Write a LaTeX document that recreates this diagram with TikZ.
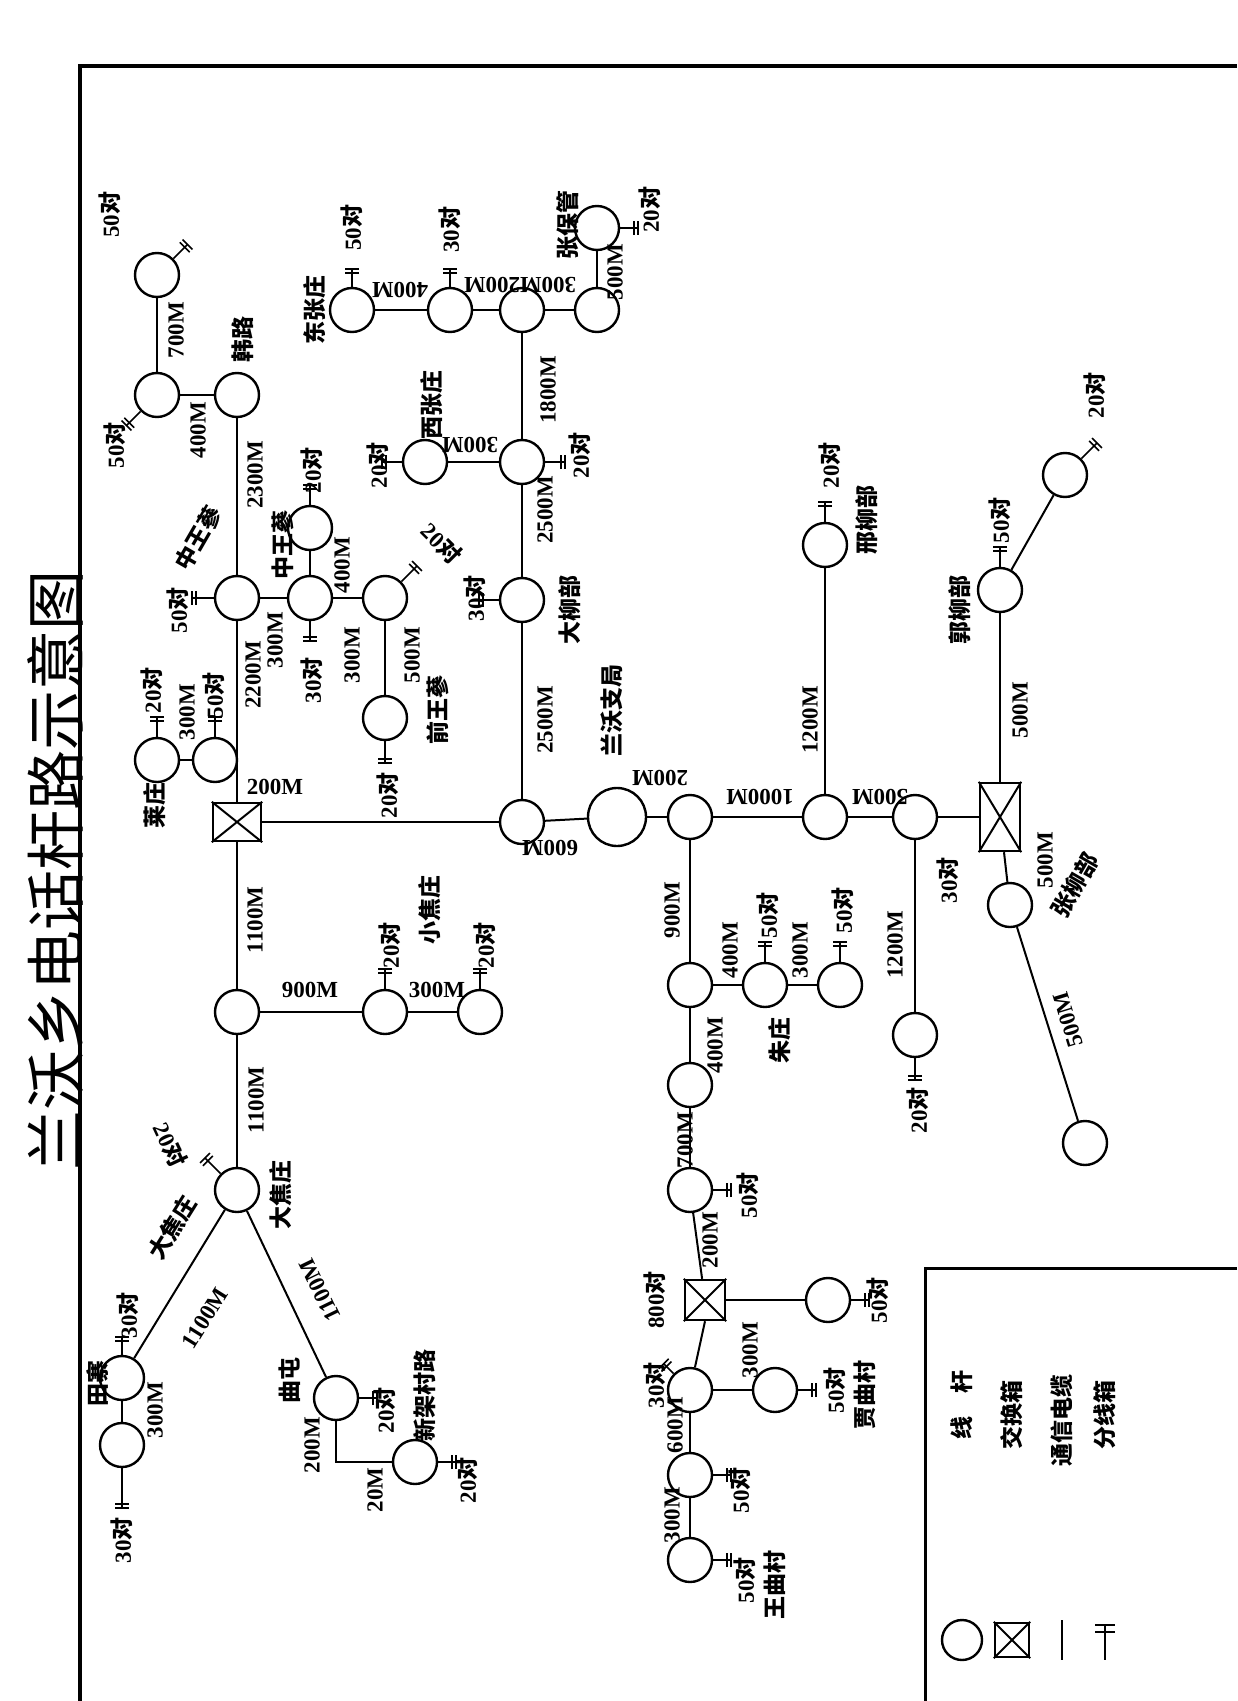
\documentclass[tikz,border=0pt]{standalone}
\usepackage{fontspec}
\setmainfont{Liberation Serif}
\newfontfamily\cjk{Noto Sans CJK SC}
\usetikzlibrary{calc}
\newcommand\dui{{\cjk 对}}
\newcommand\lbl{\bfseries\fontsize{11.5}{12}\selectfont}
\newcommand\zlbl{\cjk\bfseries\fontsize{11.5}{12}\selectfont}
\newcommand\tapp[3]{\draw[thick] (#1.#2) -- ++(-#2:#3) coordinate (tt);
 \draw[thick] ($(tt)+(-#2+90:7)$) -- ($(tt)+(-#2-90:7)$);
 \draw[thick] ($(tt)+(-#2:-4)+(-#2+90:7)$) -- ($(tt)+(-#2:-4)+(-#2-90:7)$);}
\begin{document}
\begin{tikzpicture}[x=0.5pt,y=-0.5pt,line width=1pt,
 p/.style={circle,draw,line width=1.2pt,minimum size=22pt,inner sep=0},
 bp/.style={circle,draw,line width=1.2pt,minimum size=29pt,inner sep=0},
 bx/.style={rectangle,draw,line width=1.2pt,minimum width=#1,inner sep=0},
 t/.style={font=\lbl,inner sep=1pt,rotate=90},
 tu/.style={font=\lbl,inner sep=1pt,rotate=180},
 zh/.style={font=\zlbl,inner sep=1pt,rotate=90}]
\useasboundingbox (0,0) rectangle (1237,1701);
\fill[white] (0,0) rectangle (1237,1701);
% frame
\draw[line width=2pt] (80,1701) -- (80,66) -- (1237,66);
\draw[line width=1.5pt] (925,1701) -- (925,1268) -- (1237,1268);
\node[rotate=90,font=\cjk\fontsize{30}{30}\selectfont] (title) at (55,870) {兰沃乡电话杆路示意图};
% ---------- left trunk ----------
\node[p] (B) at (157,275) {};
\node[p] (A) at (157,395) {};
\node[p] (HL) at (237,395) {};
\node[p] (C) at (237,598) {};
\node[p] (D) at (310,598) {};
\node[p] (E) at (310,528) {};
\node[p] (F) at (385,598) {};
\node[p] (G) at (385,718) {};
\node[p] (H) at (215,760) {};
\node[p] (I) at (157,760) {};
\node[bx=24pt,minimum height=19pt] (X1) at (237,822) {};
\node[p] (K) at (237,1012) {};
\node[p] (L) at (385,1012) {};
\node[p] (M) at (480,1012) {};
\node[p] (N) at (237,1190) {};
\node[p] (O) at (122,1378) {};
\node[p] (P) at (122,1445) {};
\node[p] (Q) at (336,1398) {};
\node[p] (R) at (415,1462) {};
\draw (A)--(B); \draw (A)--(HL); \draw (HL)--(C); \draw (C)--(D); \draw (D)--(E); \draw (D)--(F); \draw (F)--(G);
\draw (C)--(X1); \draw (X1)--(K); \draw (K)--(L); \draw (L)--(M); \draw (K)--(N);
\draw (N)--(O); \draw (O)--(P); \draw (N)--(Q);
\draw (Q.south) |- (R.west);
\draw (I) -- (H);
\tapp{B}{45}{20} \tapp{A}{225}{20} \tapp{C}{180}{22} \tapp{E}{90}{20} \tapp{D}{270}{20}
\tapp{F}{45}{22} \tapp{G}{270}{22} \tapp{H}{90}{20} \tapp{I}{90}{20}
\tapp{L}{90}{20} \tapp{M}{90}{20} \tapp{N}{135}{22} \tapp{O}{90}{18} \tapp{P}{270}{40}
\tapp{Q}{0}{18} \tapp{R}{0}{18}
\node[t] at (110,215) {50\dui};
\node[t] at (115,445) {50\dui};
\node[t] at (176,330) {700M};
\node[t] at (198,430) {400M};
\node[zh] at (243,340) {韩路};
\node[t] at (255,475) {2300M};
\node[t] at (178,610) {50\dui};
\node[zh,rotate=-30] at (198,538) {中王蔘};
\node[t] at (312,470) {20\dui};
\node[zh] at (283,545) {中王蔘};
\node[t] at (342,565) {400M};
\node[t] at (275,640) {300M};
\node[t] at (253,675) {2200M};
\node[t] at (312,680) {30\dui};
\node[t] at (352,655) {300M};
\node[t,rotate=-135] at (442,543) {20\dui};
\node[t] at (412,655) {500M};
\node[zh] at (438,710) {前王蔘};
\node[t] at (388,795) {20\dui};
\node[t] at (152,690) {20\dui};
\node[t] at (187,712) {300M};
\node[t] at (214,695) {50\dui};
\node[zh] at (155,805) {莱庄};
\node[font=\lbl] at (275,787) {200M};
\node[t] at (255,920) {1100M};
\node[font=\lbl] at (310,990) {900M};
\node[t] at (390,945) {20\dui};
\node[zh] at (430,910) {小焦庄};
\node[font=\lbl] at (437,990) {300M};
\node[t] at (485,945) {20\dui};
\node[t] at (256,1100) {1100M};
\node[t,rotate=-155] at (170,1145) {20\dui};
\node[zh] at (281,1195) {大焦庄};
\node[zh,rotate=-32] at (172,1228) {大焦庄};
\node[t,rotate=-32] at (205,1318) {1100M};
\node[t,rotate=26] at (320,1290) {1100M};
\node[t] at (128,1315) {30\dui};
\node[zh] at (98,1383) {田寨};
\node[t] at (155,1410) {300M};
\node[t] at (122,1540) {30\dui};
\node[zh] at (290,1380) {曲屯};
\node[t] at (312,1445) {200M};
\node[t] at (375,1490) {20M};
\node[t] at (385,1410) {20\dui};
\node[zh] at (425,1395) {新架村路};
\node[t] at (467,1480) {20\dui};
% ---------- right part ----------
\node[p] (J) at (522,822) {};
\node[p] (S) at (522,600) {};
\node[p] (T) at (522,462) {};
\node[p] (U) at (425,462) {};
\node[p] (V) at (522,310) {};
\node[p] (W) at (450,310) {};
\node[p] (Z) at (352,310) {};
\node[p] (X) at (597,310) {};
\node[p] (Y) at (597,228) {};
\node[bp] (BJ) at (617,817) {};
\node[p] (AA) at (690,817) {};
\node[p] (BB) at (825,817) {};
\node[p] (CC) at (825,545) {};
\node[p] (DD) at (915,817) {};
\node[bx=20pt,minimum height=34pt] (X2) at (1000,817) {};
\node[p] (EE) at (915,1035) {};
\node[p] (FF) at (1000,590) {};
\node[p] (GG) at (1065,475) {};
\node[p] (HH) at (1010,905) {};
\node[p] (II) at (1085,1143) {};
\node[p] (JJ) at (690,985) {};
\node[p] (KK) at (765,985) {};
\node[p] (LL) at (840,985) {};
\node[p] (MM) at (690,1085) {};
\node[p] (NN) at (690,1190) {};
\node[bx=20pt,minimum height=20pt] (X3) at (705,1300) {};
\node[p] (OO) at (828,1300) {};
\node[p] (PP) at (690,1390) {};
\node[p] (QQ) at (775,1390) {};
\node[p] (RR) at (690,1475) {};
\node[p] (SS) at (690,1560) {};
\foreach \b in {X1,X2,X3}{\draw (\b.north west)--(\b.south east) (\b.north east)--(\b.south west);}
\draw (X1)--(J); \draw (J)--(S); \draw (S)--(T); \draw (T)--(U); \draw (T)--(V); \draw (V)--(W); \draw (W)--(Z);
\draw (V)--(X); \draw (X)--(Y); \draw (J)--(BJ); \draw (BJ)--(AA); \draw (AA)--(BB); \draw (BB)--(CC);
\draw (BB)--(DD); \draw (DD)--(X2); \draw (DD)--(EE); \draw (X2)--(FF); \draw (FF)--(GG);
\draw (X2)--(HH); \draw (HH)--(II);
\draw (AA)--(JJ); \draw (JJ)--(KK); \draw (KK)--(LL); \draw (JJ)--(MM); \draw (MM)--(NN);
\draw (NN)--(X3); \draw (X3)--(OO); \draw (X3.south) -- (PP); \draw (PP)--(QQ); \draw (PP)--(RR); \draw (RR)--(SS);
\tapp{S}{180}{20} \tapp{T}{0}{20} \tapp{U}{180}{20} \tapp{W}{90}{18} \tapp{Z}{90}{18} \tapp{Y}{0}{18}
\tapp{CC}{90}{20} \tapp{EE}{270}{22} \tapp{FF}{90}{20} \tapp{GG}{45}{22}
\tapp{KK}{90}{20} \tapp{LL}{90}{20} \tapp{NN}{0}{18} \tapp{OO}{0}{18} \tapp{PP}{135}{14}
\tapp{QQ}{0}{18} \tapp{RR}{0}{18} \tapp{SS}{0}{18}
\node[t] at (475,598) {30\dui};
\node[zh] at (570,610) {大柳部};
\node[t] at (545,720) {2500M};
\node[t] at (545,510) {2500M};
\node[t] at (580,455) {20\dui};
\node[tu] at (470,445) {300M};
\node[t] at (378,465) {20\dui};
\node[zh] at (432,405) {西张庄};
\node[t] at (548,390) {1800M};
\node[tu] at (400,290) {400M};
\node[tu] at (520,285) {300M200M};
\node[t] at (352,228) {50\dui};
\node[zh] at (315,310) {东张庄};
\node[t] at (450,230) {30\dui};
\node[t] at (615,272) {500M};
\node[zh] at (568,225) {张保管};
\node[t] at (650,210) {20\dui};
\node[tu] at (550,848) {600M};
\node[zh] at (612,710) {兰沃支局};
\node[tu] at (660,778) {200M};
\node[tu] at (760,797) {1000M};
\node[t] at (810,720) {1200M};
\node[t] at (830,465) {20\dui};
\node[zh] at (867,520) {邢柳部};
\node[tu] at (880,797) {500M};
\node[t] at (948,880) {30\dui};
\node[t] at (895,945) {1200M};
\node[t] at (918,1110) {20\dui};
\node[t] at (1020,710) {500M};
\node[t] at (1000,520) {50\dui};
\node[zh] at (960,610) {郭柳部};
\node[t] at (1095,395) {20\dui};
\node[t] at (1045,860) {500M};
\node[zh,rotate=-30] at (1075,885) {张柳部};
\node[t,rotate=17] at (1068,1020) {500M};
\node[t] at (672,910) {900M};
\node[t] at (730,950) {400M};
\node[t] at (768,915) {50\dui};
\node[t] at (800,950) {300M};
\node[t] at (843,910) {50\dui};
\node[zh] at (780,1040) {朱庄};
\node[t] at (715,1045) {400M};
\node[t] at (685,1140) {700M};
\node[t] at (748,1195) {50\dui};
\node[t] at (710,1240) {200M};
\node[t] at (655,1300) {800\dui};
\node[t] at (878,1300) {50\dui};
\node[t] at (655,1385) {30\dui};
\node[t] at (750,1350) {300M};
\node[t] at (835,1390) {50\dui};
\node[zh] at (865,1395) {贾曲村};
\node[t] at (675,1425) {600M};
\node[t] at (740,1490) {50\dui};
\node[t] at (672,1515) {300M};
\node[t] at (745,1580) {50\dui};
\node[zh] at (775,1585) {王曲村};
% legend
\node[p,minimum size=20pt] (lg1) at (962,1640) {};
\node[bx=17pt,minimum height=17pt] (lg2) at (1012,1640) {};
\draw (lg2.north west)--(lg2.south east) (lg2.north east)--(lg2.south west);
\coordinate (lg3a) at (1062,1620); \coordinate (lg3b) at (1062,1660);
\draw[thick] (lg3a)--(lg3b);
\coordinate (lg4a) at (1105,1625); \coordinate (lg4b) at (1105,1660);
\draw[thick] (lg4a)--(lg4b) (1095,1625)--(1115,1625) (1095,1632)--(1115,1632);
\node[zh] at (962,1405) {线\quad 杆};
\node[zh] at (1012,1415) {交换箱};
\node[zh] at (1062,1420) {通信电缆};
\node[zh] at (1105,1415) {分线箱};
\end{tikzpicture}
\end{document}
